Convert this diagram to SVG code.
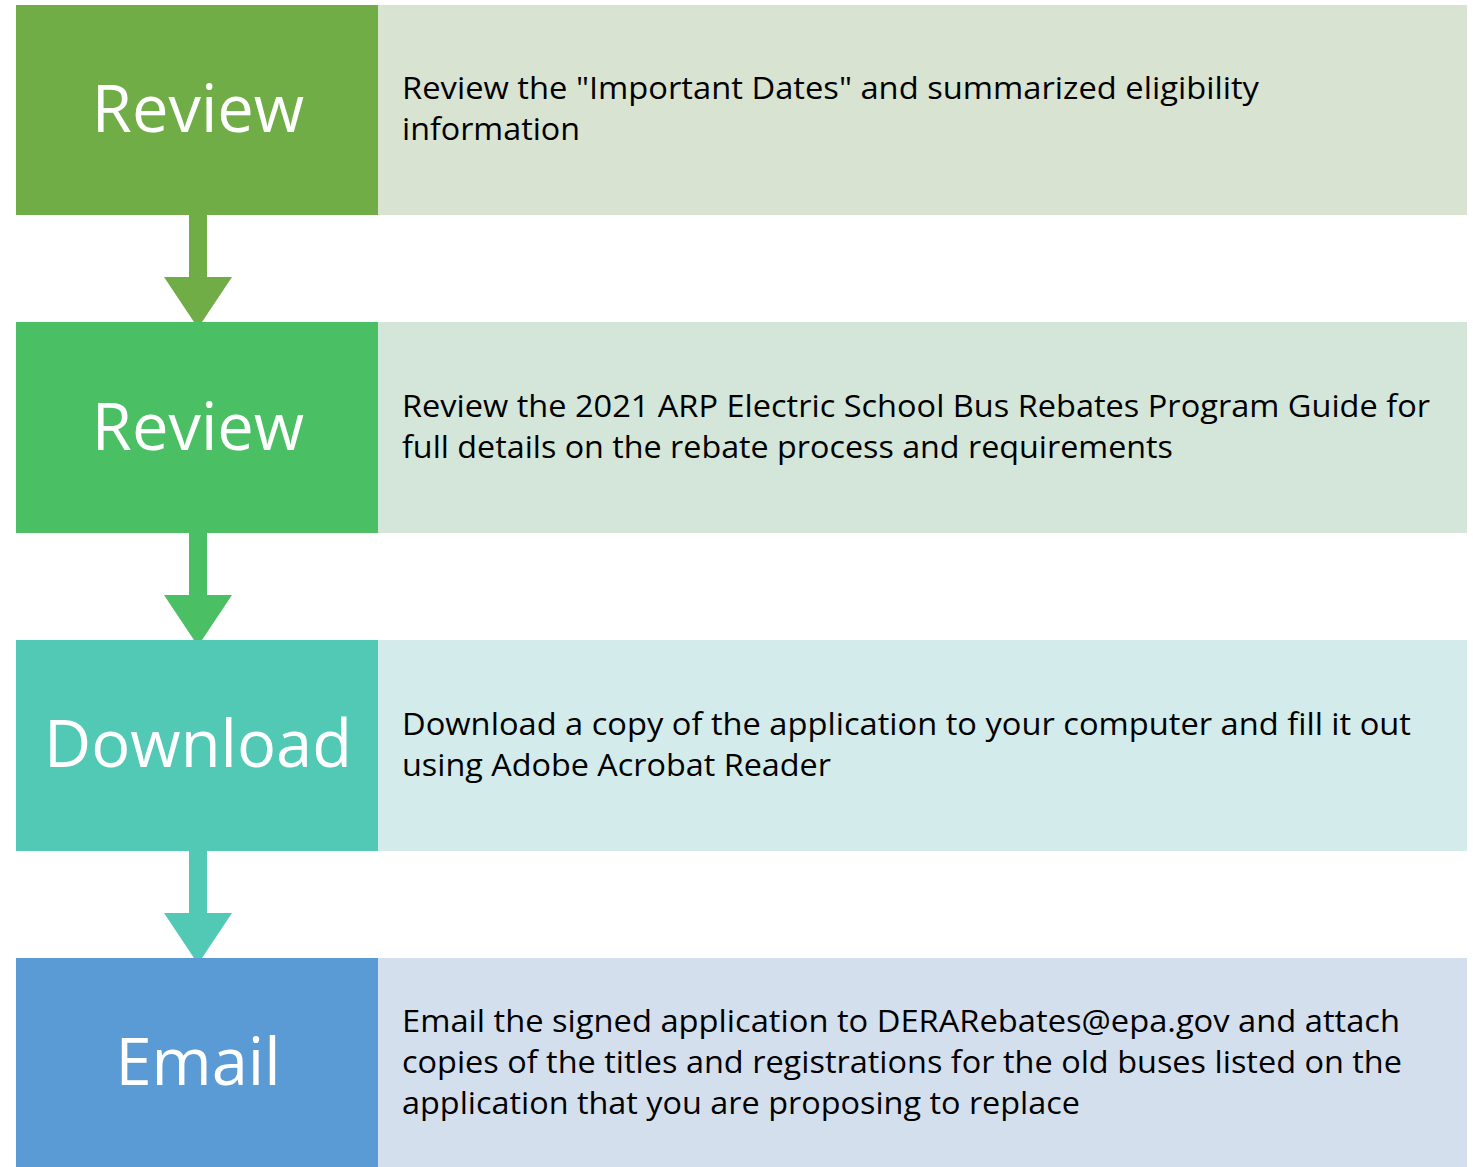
<svg xmlns="http://www.w3.org/2000/svg" width="1473" height="1167" viewBox="0 0 1473 1167">
<style>
.title{font-family:"Open Sans","Liberation Sans",sans-serif;font-size:65px;fill:#ffffff;text-anchor:middle}
.desc{font-family:"Open Sans","Liberation Sans",sans-serif;font-size:31px;fill:#000000}
</style>
<rect width="1473" height="1167" fill="#ffffff"/>
<g id="connectors">
<path d="M189 215 H207 V277 H232 L198 328 L164 277 H189 Z" fill="#70AD47"/>
<path d="M189 533 H207 V595 H232 L198 646 L164 595 H189 Z" fill="#4BBF63"/>
<path d="M189 851 H207 V913 H232 L198 964 L164 913 H189 Z" fill="#52C9B5"/>
</g>
<g id="step1">
<rect x="378" y="5" width="1089" height="210" fill="#D8E3D2"/>
<rect x="16" y="5" width="362" height="210" fill="#70AD47"/>
<text class="title" x="198" y="132">Review</text>
<text class="desc" x="402" y="99" textLength="857" lengthAdjust="spacingAndGlyphs">Review the "Important Dates" and summarized eligibility</text>
<text class="desc" x="402" y="140" textLength="178" lengthAdjust="spacingAndGlyphs">information</text>
</g>
<g id="step2">
<rect x="378" y="322" width="1089" height="211" fill="#D3E6D9"/>
<rect x="16" y="322" width="362" height="211" fill="#4BBF63"/>
<text class="title" x="198" y="450">Review</text>
<text class="desc" x="402" y="417" textLength="1028" lengthAdjust="spacingAndGlyphs">Review the 2021 ARP Electric School Bus Rebates Program Guide for</text>
<text class="desc" x="402" y="458" textLength="771" lengthAdjust="spacingAndGlyphs">full details on the rebate process and requirements</text>
</g>
<g id="step3">
<rect x="378" y="640" width="1089" height="211" fill="#D3EBEA"/>
<rect x="16" y="640" width="362" height="211" fill="#52C9B5"/>
<text class="title" x="198" y="767">Download</text>
<text class="desc" x="402" y="735" textLength="1009" lengthAdjust="spacingAndGlyphs">Download a copy of the application to your computer and fill it out</text>
<text class="desc" x="402" y="776" textLength="429" lengthAdjust="spacingAndGlyphs">using Adobe Acrobat Reader</text>
</g>
<g id="step4">
<rect x="378" y="958" width="1089" height="209" fill="#D4DFED"/>
<rect x="16" y="958" width="362" height="209" fill="#5B9BD5"/>
<text class="title" x="198" y="1085">Email</text>
<text class="desc" x="402" y="1032" textLength="998" lengthAdjust="spacingAndGlyphs">Email the signed application to DERARebates@epa.gov and attach</text>
<text class="desc" x="402" y="1073" textLength="1000" lengthAdjust="spacingAndGlyphs">copies of the titles and registrations for the old buses listed on the</text>
<text class="desc" x="402" y="1114" textLength="678" lengthAdjust="spacingAndGlyphs">application that you are proposing to replace</text>
</g>
</svg>
